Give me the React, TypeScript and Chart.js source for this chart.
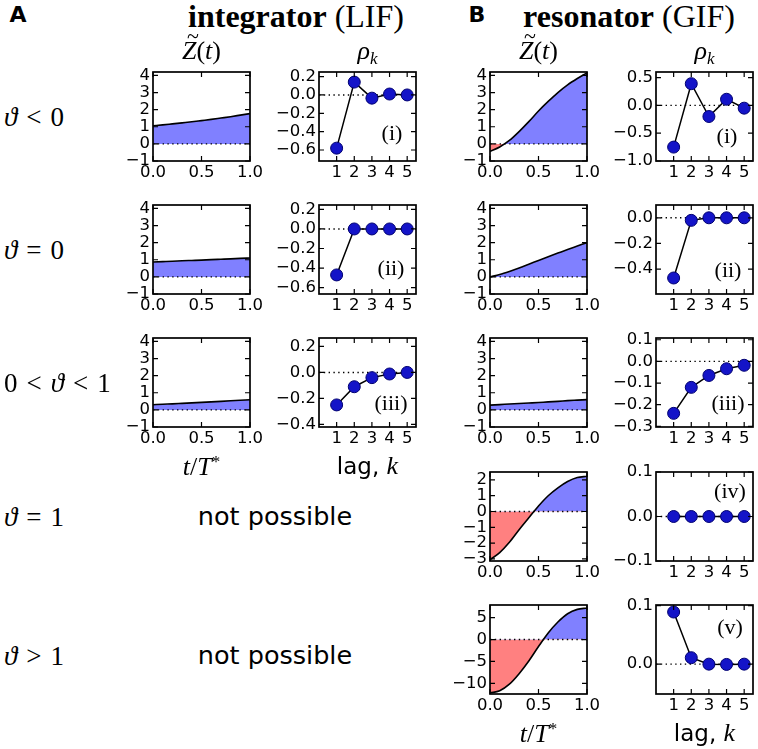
import React, { useEffect, useRef } from "react";
import { Chart, registerables } from "chart.js";

Chart.register(...registerables);

// ---------------- data ----------------
const T = [0, 0.1, 0.2, 0.3, 0.4, 0.5, 0.6, 0.7, 0.8, 0.9, 1.0];
const zIntNeg = [1.06, 1.11, 1.17, 1.23, 1.29, 1.36, 1.43, 1.51, 1.59, 1.68, 1.77];
const zIntZero = [0.87, 0.89, 0.91, 0.94, 0.96, 0.98, 1.01, 1.03, 1.05, 1.08, 1.1];
const zIntMid = [0.3, 0.33, 0.35, 0.38, 0.41, 0.44, 0.47, 0.5, 0.53, 0.56, 0.59];
const zResNeg = [-0.44, -0.18, 0.2, 0.72, 1.3, 1.92, 2.48, 3.0, 3.45, 3.82, 4.15];
const zResZero = [0, 0.14, 0.32, 0.52, 0.74, 0.96, 1.18, 1.39, 1.6, 1.8, 2.0];
const zResMid = [0.28, 0.31, 0.34, 0.37, 0.4, 0.43, 0.47, 0.5, 0.54, 0.57, 0.6];
const zResOne = [-3.05, -2.6, -1.95, -1.15, -0.4, 0.35, 1.0, 1.5, 1.9, 2.15, 2.23];
const zResAbove = [-12.2, -11.7, -10.2, -7.8, -4.9, -1.6, 1.5, 4.0, 5.9, 6.9, 7.2];

const LAGS = [1, 2, 3, 4, 5];
const rhoIntNeg = [-0.58, 0.14, -0.035, 0.01, 0.0];
const rhoIntZero = [-0.47, 0, 0, 0, 0];
const rhoIntMid = [-0.25, -0.11, -0.04, -0.012, 0.0];
const rhoResNeg = [-0.75, 0.39, -0.2, 0.11, -0.05];
const rhoResZero = [-0.47, -0.02, 0, 0, 0];
const rhoResMid = [-0.24, -0.12, -0.065, -0.034, -0.018];
const rhoResOne = [0, 0, 0, 0, 0];
const rhoResAbove = [0.089, 0.011, 0, -0.0005, 0];

// tick labels
const tTicks = [0, 0.5, 1];
const lagTicks = [1, 2, 3, 4, 5];
const zTicks = [-1, 0, 1, 2, 3, 4];
const zTicksOne = [-3, -2, -1, 0, 1, 2];
const zTicksAbove = [-10, -5, 0, 5];
const rhoTicksIntA = [-0.6, -0.4, -0.2, 0, 0.2];
const rhoTicksIntMid = [-0.4, -0.2, 0, 0.2];
const rhoTicksResNeg = [-1, -0.5, 0, 0.5];
const rhoTicksResZero = [-0.4, -0.2, 0];
const rhoTicksResMid = [-0.3, -0.2, -0.1, 0, 0.1];
const rhoTicksResOne = [-0.1, 0, 0.1];
const rhoTicksResAbove = [0, 0.1];

// ---------------- layout ----------------
const COLS = [153, 319, 490, 656];
const ROWS = [72, 205, 338, 472, 605];
const BW = 97;
const BH = 89;
const YW = 56;
const PT = 14;
const PR = 18;
const XH = 30;

type Spec = {
  kind: "z" | "rho";
  col: number;
  row: number;
  values: number[];
  yMin: number;
  yMax: number;
  yTicks: number[];
  yDec: number;
};

const specs: Spec[] = [
  { kind: "z", col: 0, row: 0, values: zIntNeg, yMin: -1, yMax: 4.2, yTicks: zTicks, yDec: 0 },
  { kind: "rho", col: 1, row: 0, values: rhoIntNeg, yMin: -0.72, yMax: 0.25, yTicks: rhoTicksIntA, yDec: 1 },
  { kind: "z", col: 0, row: 1, values: zIntZero, yMin: -1, yMax: 4.2, yTicks: zTicks, yDec: 0 },
  { kind: "rho", col: 1, row: 1, values: rhoIntZero, yMin: -0.665, yMax: 0.245, yTicks: rhoTicksIntA, yDec: 1 },
  { kind: "z", col: 0, row: 2, values: zIntMid, yMin: -1, yMax: 4.2, yTicks: zTicks, yDec: 0 },
  { kind: "rho", col: 1, row: 2, values: rhoIntMid, yMin: -0.42, yMax: 0.265, yTicks: rhoTicksIntMid, yDec: 1 },
  { kind: "z", col: 2, row: 0, values: zResNeg, yMin: -1, yMax: 4.2, yTicks: zTicks, yDec: 0 },
  { kind: "rho", col: 3, row: 0, values: rhoResNeg, yMin: -1.0, yMax: 0.6, yTicks: rhoTicksResNeg, yDec: 1 },
  { kind: "z", col: 2, row: 1, values: zResZero, yMin: -1, yMax: 4.2, yTicks: zTicks, yDec: 0 },
  { kind: "rho", col: 3, row: 1, values: rhoResZero, yMin: -0.595, yMax: 0.1, yTicks: rhoTicksResZero, yDec: 1 },
  { kind: "z", col: 2, row: 2, values: zResMid, yMin: -1, yMax: 4.2, yTicks: zTicks, yDec: 0 },
  { kind: "rho", col: 3, row: 2, values: rhoResMid, yMin: -0.303, yMax: 0.108, yTicks: rhoTicksResMid, yDec: 1 },
  { kind: "z", col: 2, row: 3, values: zResOne, yMin: -3.13, yMax: 2.5, yTicks: zTicksOne, yDec: 0 },
  { kind: "rho", col: 3, row: 3, values: rhoResOne, yMin: -0.1, yMax: 0.1, yTicks: rhoTicksResOne, yDec: 1 },
  { kind: "z", col: 2, row: 4, values: zResAbove, yMin: -12.45, yMax: 7.9, yTicks: zTicksAbove, yDec: 0 },
  { kind: "rho", col: 3, row: 4, values: rhoResAbove, yMin: -0.051, yMax: 0.101, yTicks: rhoTicksResAbove, yDec: 1 },
];

const fmt = (v: number, dec: number) => {
  const s = Math.abs(v) < 1e-9 ? (0).toFixed(dec) : v.toFixed(dec);
  return s.replace("-", "\u2212");
};

const TICK_FONT = { family: "'DejaVu Sans', sans-serif", size: 16.5 };

const framePlugin = {
  id: "frame",
  beforeDatasetsDraw(chart: any) {
    const { ctx, chartArea: a, scales } = chart;
    const kind = chart.options.plugins.frame.kind;
    if (kind === "rho") drawZero(ctx, a, scales.y);
  },
  afterDatasetsDraw(chart: any) {
    const { ctx, chartArea: a, scales } = chart;
    const kind = chart.options.plugins.frame.kind;
    if (kind === "z") drawZero(ctx, a, scales.y);
  },
  afterDraw(chart: any) {
    const { ctx, chartArea: a, scales } = chart;
    const opt = chart.options.plugins.frame;
    ctx.save();
    ctx.strokeStyle = "#000";
    ctx.lineWidth = 1.2;
    const L = 5;
    ctx.beginPath();
    for (const v of opt.yTicks) {
      const py = scales.y.getPixelForValue(v);
      ctx.moveTo(a.left, py);
      ctx.lineTo(a.left + L, py);
      ctx.moveTo(a.right, py);
      ctx.lineTo(a.right - L, py);
    }
    for (const v of opt.xTicks) {
      const px = scales.x.getPixelForValue(v);
      ctx.moveTo(px, a.bottom);
      ctx.lineTo(px, a.bottom - L);
      ctx.moveTo(px, a.top);
      ctx.lineTo(px, a.top + L);
    }
    ctx.stroke();
    ctx.lineWidth = 1.7;
    ctx.strokeRect(a.left, a.top, a.right - a.left, a.bottom - a.top);
    ctx.restore();
  },
};

function drawZero(ctx: CanvasRenderingContext2D, a: any, y: any) {
  const py = y.getPixelForValue(0);
  ctx.save();
  ctx.strokeStyle = "#000";
  ctx.lineWidth = 1.4;
  ctx.setLineDash([1.4, 3.4]);
  ctx.beginPath();
  ctx.moveTo(a.left, py);
  ctx.lineTo(a.right, py);
  ctx.stroke();
  ctx.restore();
}

function buildConfig(s: Spec): any {
  const isZ = s.kind === "z";
  const xs = isZ ? T : LAGS;
  const xTicks = isZ ? tTicks : lagTicks;
  const data = xs.map((x, i) => ({ x, y: s.values[i] }));
  const dataset: any = isZ
    ? {
        data,
        borderColor: "#000",
        borderWidth: 1.6,
        pointRadius: 0,
        cubicInterpolationMode: "monotone",
        fill: { target: "origin", above: "rgb(128,128,255)", below: "rgb(255,128,128)" },
      }
    : {
        data,
        borderColor: "#000",
        borderWidth: 1.5,
        pointRadius: 6,
        pointBackgroundColor: "#1414c8",
        pointBorderColor: "#000070",
        pointBorderWidth: 1,
        tension: 0,
        clip: false,
        fill: false,
      };
  return {
    type: "line",
    data: { datasets: [dataset] },
    plugins: [framePlugin],
    options: {
      animation: false,
      responsive: false,
      maintainAspectRatio: false,
      events: [],
      layout: { padding: { top: PT, right: PR, left: 0, bottom: 0 } },
      plugins: {
        legend: { display: false },
        tooltip: { enabled: false },
        frame: { kind: s.kind, yTicks: s.yTicks, xTicks },
      },
      scales: {
        x: {
          type: "linear",
          min: 0,
          max: isZ ? 1 : 5.5,
          afterBuildTicks: (sc: any) => {
            sc.ticks = xTicks.map((v) => ({ value: v }));
          },
          afterFit: (sc: any) => {
            sc.height = XH;
          },
          ticks: {
            autoSkip: false,
            maxRotation: 0,
            padding: 2,
            color: "#000",
            font: TICK_FONT,
            callback: (v: number) => (isZ ? fmt(v, 1) : String(v)),
          },
          grid: { display: false, drawTicks: false },
          border: { display: false },
        },
        y: {
          type: "linear",
          min: s.yMin,
          max: s.yMax,
          afterBuildTicks: (sc: any) => {
            sc.ticks = s.yTicks.map((v) => ({ value: v }));
          },
          afterFit: (sc: any) => {
            sc.width = YW;
          },
          ticks: {
            autoSkip: false,
            padding: 3,
            color: "#000",
            font: TICK_FONT,
            callback: (v: number) => fmt(v, s.yDec),
          },
          grid: { display: false, drawTicks: false },
          border: { display: false },
        },
      },
    },
  };
}

function Panel({ spec }: { spec: Spec }) {
  const ref = useRef<HTMLCanvasElement>(null);
  const W = YW + BW + PR;
  const H = PT + BH + XH;
  useEffect(() => {
    const chart = new Chart(ref.current as HTMLCanvasElement, buildConfig(spec));
    return () => chart.destroy();
  }, []);
  return (
    <canvas
      ref={ref}
      width={W}
      height={H}
      style={{
        position: "absolute",
        left: COLS[spec.col] - YW,
        top: ROWS[spec.row] - PT,
        width: W,
        height: H,
      }}
    />
  );
}

const SERIF = "'Liberation Serif', 'DejaVu Serif', serif";
const SANS = "'DejaVu Sans', sans-serif";

function At({
  x,
  y,
  children,
  style,
  align = "center",
}: {
  x: number;
  y: number;
  children: React.ReactNode;
  style?: React.CSSProperties;
  align?: "center" | "left";
}) {
  return (
    <div
      style={{
        position: "absolute",
        left: x,
        top: y,
        transform: align === "center" ? "translate(-50%, -50%)" : "translate(0, -50%)",
        whiteSpace: "nowrap",
        lineHeight: 1,
        color: "#000",
        ...style,
      }}
    >
      {children}
    </div>
  );
}

const Ztilde = () => (
  <span style={{ fontFamily: SERIF, fontSize: 26 }}>
    <span style={{ position: "relative", fontStyle: "italic" }}>
      Z
      <span style={{ position: "absolute", left: 5, top: -11, fontStyle: "normal", fontSize: 22 }}>~</span>
    </span>
    (<i>t</i>)
  </span>
);

const Rho = () => (
  <span style={{ fontFamily: SERIF, fontSize: 26 }}>
    <i>ρ</i>
    <sub style={{ fontSize: 17, verticalAlign: "-5px" }}>
      <i>k</i>
    </sub>
  </span>
);

const TT = () => (
  <span style={{ fontFamily: SERIF, fontSize: 26 }}>
    <i>t</i>/<i>T</i>
    <sup style={{ fontSize: 17, verticalAlign: "8px" }}>*</sup>
  </span>
);

const Lag = () => (
  <span style={{ fontFamily: SANS, fontSize: 23 }}>
    lag, <i style={{ fontFamily: SERIF, fontSize: 26 }}>k</i>
  </span>
);

const rowLabelStyle: React.CSSProperties = { fontFamily: SERIF, fontSize: 27 };
const annStyle: React.CSSProperties = { fontFamily: SERIF, fontSize: 22 };
const SP = "\u2004";

export default function App() {
  const cx = COLS.map((c) => c + BW / 2);
  const cy = ROWS.map((r) => r + BH / 2);
  return (
    <div
      style={{
        position: "absolute",
        left: 0,
        top: 0,
        width: 758,
        height: 749,
        overflow: "hidden",
        background: "#fff",
      }}
    >
      {specs.map((s, i) => (
        <Panel key={i} spec={s} />
      ))}

      <At x={18} y={15} style={{ fontFamily: SANS, fontWeight: "bold", fontSize: 22 }}>A</At>
      <At x={477} y={15} style={{ fontFamily: SANS, fontWeight: "bold", fontSize: 22 }}>B</At>
      <At x={296} y={16} style={{ fontFamily: SERIF, fontSize: 32 }}>
        <b>integrator</b> (LIF)
      </At>
      <At x={629} y={16} style={{ fontFamily: SERIF, fontSize: 32 }}>
        <b>resonator</b> (GIF)
      </At>

      <At x={cx[0]} y={51}><Ztilde /></At>
      <At x={cx[1]} y={52}><Rho /></At>
      <At x={cx[2]} y={51}><Ztilde /></At>
      <At x={cx[3]} y={52}><Rho /></At>

      <At x={4} y={cy[0]} align="left" style={rowLabelStyle}><i>ϑ</i>{SP}&lt;{SP}0</At>
      <At x={4} y={cy[1]} align="left" style={rowLabelStyle}><i>ϑ</i>{SP}={SP}0</At>
      <At x={4} y={cy[2]} align="left" style={rowLabelStyle}>0{SP}&lt;{SP}<i>ϑ</i>{SP}&lt;{SP}1</At>
      <At x={4} y={517} align="left" style={rowLabelStyle}><i>ϑ</i>{SP}={SP}1</At>
      <At x={4} y={656} align="left" style={rowLabelStyle}><i>ϑ</i>{SP}&gt;{SP}1</At>

      <At x={275} y={517} style={{ fontFamily: SANS, fontSize: 25.5 }}>not possible</At>
      <At x={275} y={656} style={{ fontFamily: SANS, fontSize: 25.5 }}>not possible</At>

      <At x={cx[0]} y={ROWS[2] + BH + 39}><TT /></At>
      <At x={cx[1]} y={ROWS[2] + BH + 39}><Lag /></At>
      <At x={cx[2]} y={ROWS[4] + BH + 39}><TT /></At>
      <At x={cx[3]} y={ROWS[4] + BH + 39}><Lag /></At>

      <At x={COLS[1] + BW - 24} y={ROWS[0] + BH - 28} style={annStyle}>(i)</At>
      <At x={COLS[1] + BW - 25} y={ROWS[1] + BH - 26} style={annStyle}>(ii)</At>
      <At x={COLS[1] + BW - 25} y={ROWS[2] + BH - 24} style={annStyle}>(iii)</At>
      <At x={COLS[3] + BW - 26} y={ROWS[0] + BH - 25} style={annStyle}>(i)</At>
      <At x={COLS[3] + BW - 25} y={ROWS[1] + BH - 24} style={annStyle}>(ii)</At>
      <At x={COLS[3] + BW - 25} y={ROWS[2] + BH - 24} style={annStyle}>(iii)</At>
      <At x={COLS[3] + BW - 23} y={ROWS[3] + 19} style={annStyle}>(iv)</At>
      <At x={COLS[3] + BW - 23} y={ROWS[4] + 22} style={annStyle}>(v)</At>
    </div>
  );
}
